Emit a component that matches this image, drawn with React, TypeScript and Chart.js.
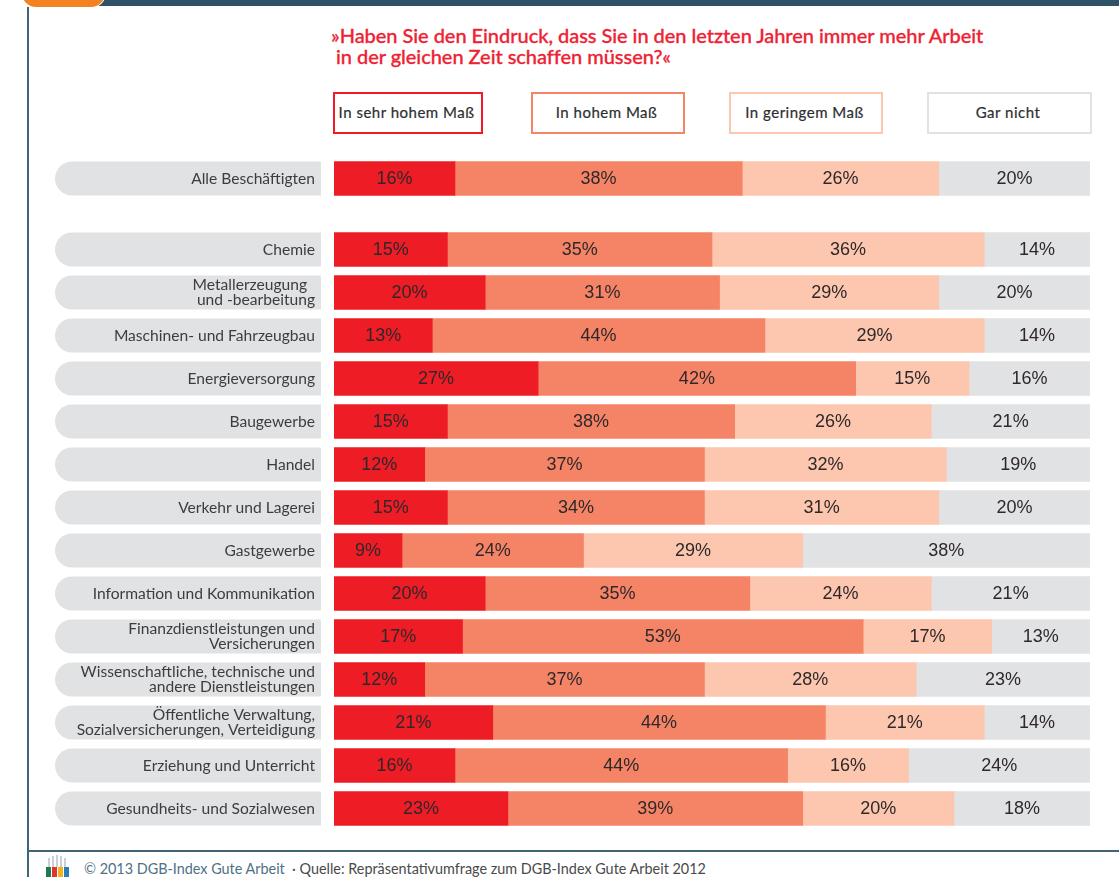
import React, { useEffect, useRef } from "react";
import { Chart, registerables } from "chart.js";

Chart.register(...registerables);

const overallCategory = ["Alle Beschäftigten"];
const overallSehrHoch = [16];
const overallHoch = [38];
const overallGering = [26];
const overallGarNicht = [20];

const categories = [
  "Chemie",
  ["Metallerzeugung  ", "und -bearbeitung"],
  "Maschinen- und Fahrzeugbau",
  "Energieversorgung",
  "Baugewerbe",
  "Handel",
  "Verkehr und Lagerei",
  "Gastgewerbe",
  "Information und Kommunikation",
  ["Finanzdienstleistungen und", "Versicherungen"],
  ["Wissenschaftliche, technische und", "andere Dienstleistungen"],
  ["Öffentliche Verwaltung,", "Sozialversicherungen, Verteidigung"],
  "Erziehung und Unterricht",
  "Gesundheits- und Sozialwesen",
];
const sehrHoch = [15, 20, 13, 27, 15, 12, 15, 9, 20, 17, 12, 21, 16, 23];
const hoch = [35, 31, 44, 42, 38, 37, 34, 24, 35, 53, 37, 44, 44, 39];
const gering = [36, 29, 29, 15, 26, 32, 31, 29, 24, 17, 28, 21, 16, 20];
const garNicht = [14, 20, 14, 16, 21, 19, 20, 38, 21, 13, 23, 14, 24, 18];

const seriesNames = ["In sehr hohem Maß", "In hohem Maß", "In geringem Maß", "Gar nicht"];
const seriesColors = ["#EE1C25", "#F58466", "#FDC6AE", "#E1E2E4"];
const titleLines = [
  "»Haben Sie den Eindruck, dass Sie in den letzten Jahren immer mehr Arbeit",
  " in der gleichen Zeit schaffen müssen?«",
];

const UI_FONT = "Lato, 'Open Sans', sans-serif";

const pillsAndValues = {
  id: "pillsAndValues",
  beforeDraw(chart: any) {
    const { ctx, scales } = chart;
    const y = scales.y;
    ctx.save();
    ctx.fillStyle = "#E1E2E4";
    y.ticks.forEach((_: any, i: number) => {
      const c = y.getPixelForTick(i);
      ctx.beginPath();
      ctx.roundRect(55, c - 17, 266, 34, [17, 0, 0, 17]);
      ctx.fill();
    });
    ctx.restore();
  },
  afterDatasetsDraw(chart: any) {
    const { ctx } = chart;
    ctx.save();
    ctx.font = "18px 'Liberation Sans', Arial, sans-serif";
    ctx.fillStyle = "#2E282B";
    ctx.textAlign = "center";
    ctx.textBaseline = "middle";
    chart.data.datasets.forEach((ds: any, di: number) => {
      chart.getDatasetMeta(di).data.forEach((bar: any, i: number) => {
        const p = bar.getCenterPoint();
        ctx.fillText(`${ds.data[i]}%`, p.x, p.y + 1);
      });
    });
    ctx.restore();
  },
};

function makeChart(canvas: HTMLCanvasElement, labels: any[], rows: number[][]) {
  return new Chart(canvas, {
    type: "bar",
    data: {
      labels,
      datasets: rows.map((data, i) => ({
        label: seriesNames[i],
        data,
        backgroundColor: seriesColors[i],
        barThickness: 34,
        borderWidth: 0,
      })),
    },
    options: {
      indexAxis: "y",
      animation: false,
      responsive: false,
      maintainAspectRatio: false,
      layout: { padding: { left: 0, right: 29, top: 0, bottom: 0 } },
      plugins: { legend: { display: false }, tooltip: { enabled: false }, title: { display: false } },
      scales: {
        x: { stacked: true, min: 0, max: 100, display: false },
        y: {
          stacked: true,
          grid: { display: false, drawTicks: false },
          border: { display: false },
          afterFit(scale: any) {
            scale.width = 334;
            scale.paddingTop = 0;
            scale.paddingBottom = 0;
          },
          ticks: {
            autoSkip: false,
            padding: 19,
            color: "#3D3D40",
            font: { family: UI_FONT, size: 15.6, lineHeight: 1.02 },
          },
        },
      },
    } as any,
    plugins: [pillsAndValues],
  });
}

export default function App() {
  const topRef = useRef<HTMLCanvasElement>(null);
  const mainRef = useRef<HTMLCanvasElement>(null);

  useEffect(() => {
    const a = makeChart(topRef.current!, overallCategory, [
      overallSehrHoch,
      overallHoch,
      overallGering,
      overallGarNicht,
    ]);
    const b = makeChart(mainRef.current!, categories, [sehrHoch, hoch, gering, garNicht]);
    return () => {
      a.destroy();
      b.destroy();
    };
  }, []);

  const legendX = [333, 531, 729, 927];
  const legendW = [150, 154, 154, 165];

  return (
    <div style={{ position: "absolute", left: 0, top: 0, width: 1119, height: 877, overflow: "hidden", background: "#fff", fontFamily: UI_FONT }}>
      <div style={{ position: "absolute", left: 90, top: 0, width: 1029, height: 6, background: "#2F5269" }} />
      <div style={{ position: "absolute", left: 22, top: -10, width: 83, height: 17, background: "#F58220", borderRadius: "0 0 14px 14px", boxShadow: "0 0 0 1px #fff" }} />
      <div style={{ position: "absolute", left: 27, top: 7, width: 2, height: 870, background: "#41647B" }} />
      <div style={{ position: "absolute", left: 27, top: 850, width: 1092, height: 2, background: "#41647B" }} />

      {titleLines.map((t, i) => (
        <div key={i} style={{ position: "absolute", left: 331, top: 24 - 1 + i * 21, fontSize: 20, lineHeight: "24px", fontWeight: 500, color: "#EE2233", whiteSpace: "pre", letterSpacing: -0.04, WebkitTextStroke: "0.3px #EE2233" }}>
          {t}
        </div>
      ))}

      {seriesNames.map((n, i) => (
        <div key={n} style={{ position: "absolute", left: legendX[i], top: 92, width: legendW[i], height: 42, boxSizing: "border-box", border: `2px solid ${seriesColors[i]}`, display: "flex", alignItems: "center", justifyContent: "center", paddingBottom: 3, paddingRight: 3, fontSize: 15, color: "#2E2E30", letterSpacing: 0.5, WebkitTextStroke: "0.2px #2E2E30" }}>
          {n}
        </div>
      ))}

      <canvas ref={topRef} width={1119} height={43} style={{ position: "absolute", left: 0, top: 157, width: 1119, height: 43 }} />
      <canvas ref={mainRef} width={1119} height={602} style={{ position: "absolute", left: 0, top: 228, width: 1119, height: 602 }} />

      <svg style={{ position: "absolute", left: 42, top: 854 }} width="30" height="23" viewBox="0 0 30 23">
        <g fill="#C9D1D6">
          <rect x="6" y="4" width="2" height="10" /><rect x="10" y="2" width="2" height="12" /><rect x="14" y="1" width="2" height="12" /><rect x="18" y="2" width="2" height="12" /><rect x="22" y="4" width="2" height="10" />
        </g>
        <rect x="4" y="13" width="5" height="10" fill="#1F7A4D" /><rect x="10" y="13" width="5" height="10" fill="#E2322D" /><rect x="16" y="13" width="5" height="10" fill="#F2B21B" /><rect x="22" y="13" width="5" height="10" fill="#2A7FB8" />
      </svg>
      <div style={{ position: "absolute", left: 84, top: 860, fontSize: 14.4, lineHeight: "18px", whiteSpace: "pre", color: "#4A4A4C" }}>
        <span style={{ color: "#4E7186" }}>© 2013 DGB-Index Gute Arbeit</span>{"  · Quelle: Repräsentativumfrage zum DGB-Index Gute Arbeit 2012"}
      </div>
    </div>
  );
}
